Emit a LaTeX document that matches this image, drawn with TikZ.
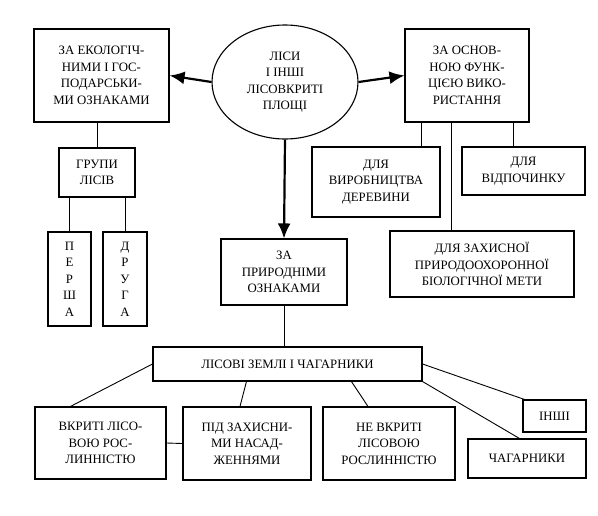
\documentclass[tikz,border=0pt]{standalone}
\usepackage{fontspec}
\setmainfont{Liberation Serif}
\usetikzlibrary{shapes,arrows.meta}

\begin{document}
\begin{tikzpicture}[x=1pt, y=-1pt,
  box/.style = {draw, line width=1.1pt, align=center, inner sep=0pt,
                font=\fontsize{12.8}{16.5}\selectfont},
  main/.style = {line width=2.2pt, -{Latex[length=15pt,width=13pt]}},
  link/.style = {line width=0.9pt}]
\useasboundingbox (0,0) rectangle (598,515);
% top level
\node[box, ellipse, minimum width=146pt, minimum height=114pt] (forest) at (285,82)
  {ЛІСИ\\І ІНШІ\\ЛІСОВКРИТІ\\ПЛОЩІ};
\node[box, minimum width=135pt, minimum height=93pt] (eco) at (101.5,75.5)
  {ЗА ЕКОЛОГІЧ-\\НИМИ І ГОС-\\ПОДАРСЬКИ-\\МИ ОЗНАКАМИ};
\node[box, minimum width=124pt, minimum height=93pt] (func) at (467,75.5)
  {ЗА ОСНОВ-\\НОЮ ФУНК-\\ЦІЄЮ ВИКО-\\РИСТАННЯ};
\node[box, minimum width=126pt, minimum height=66pt] (natural) at (284,272)
  {ЗА\\ПРИРОДНІМИ\\ОЗНАКАМИ};
\draw[main] (forest.west) -- (eco.east);
\draw[main] (forest.east) -- (func.west);
\draw[main] (forest.south) -- (natural.north);
% left branch
\node[box, minimum width=76pt, minimum height=49pt] (groups) at (97,172.5) {ГРУПИ\\ЛІСІВ};
\node[box, minimum width=43pt, minimum height=94pt] (first) at (69.5,279) {П\\Е\\Р\\Ш\\А};
\node[box, minimum width=44pt, minimum height=94pt] (second) at (125,279) {Д\\Р\\У\\Г\\А};
\draw[link] (groups.north) -- (groups.north |- eco.south);
\draw[link] (first.north) -- (first.north |- groups.south);
\draw[link] (second.north) -- (second.north |- groups.south);
% right branch
\node[box, minimum width=128pt, minimum height=70pt] (wood) at (376,182)
  {ДЛЯ\\ВИРОБНИЦТВА\\ДЕРЕВИНИ};
\node[box, minimum width=123pt, minimum height=48pt] (rest) at (523.5,171) {ДЛЯ\\ВІДПОЧИНКУ};
\node[box, minimum width=184pt, minimum height=66pt] (protect) at (482,264)
  {ДЛЯ ЗАХИСНОЇ\\ПРИРОДООХОРОННОЇ\\БІОЛОГІЧНОЇ МЕТИ};
\draw[link] ([xshift=-19pt]wood.north east) -- ([xshift=-19pt]wood.north east |- func.south);
\draw[link] ([xshift=-16pt]func.south) -- ([xshift=-16pt]func.south |- protect.north);
\draw[link] ([xshift=-10pt]rest.north) -- ([xshift=-10pt]rest.north |- func.south);
% bottom branch
\node[box, minimum width=269pt, minimum height=34pt] (lands) at (287.5,364)
  {ЛІСОВІ ЗЕМЛІ І ЧАГАРНИКИ};
\node[box, minimum width=131pt, minimum height=72pt] (covered) at (100.5,443)
  {ВКРИТІ ЛІСО-\\ВОЮ РОС-\\ЛИННІСТЮ};
\node[box, minimum width=128pt, minimum height=73pt] (shelter) at (247,443.5)
  {ПІД ЗАХИСНИ-\\МИ НАСАД-\\ЖЕННЯМИ};
\node[box, minimum width=132pt, minimum height=73pt] (uncovered) at (389,443.5)
  {НЕ ВКРИТІ\\ЛІСОВОЮ\\РОСЛИННІСТЮ};
\node[box, minimum width=118pt, minimum height=39pt] (shrubs) at (527,458.5) {ЧАГАРНИКИ};
\node[box, minimum width=63pt, minimum height=32pt] (other) at (554.5,416) {ІНШІ};
\draw[link] (natural.south) -- (natural.south |- lands.north);
\draw[link] (lands.west) -- ([xshift=36pt]covered.north west);
\draw[link] ([xshift=94pt]lands.south west) -- ([xshift=-7pt]shelter.north);
\draw[link] ([xshift=199pt]lands.south west) -- ([xshift=-21pt]uncovered.north);
\draw[link] (lands.east) -- ([xshift=2pt]other.north west);
\draw[link] (lands.south east) -- ([xshift=52pt]shrubs.north west);
\draw[link] (covered.east) -- (shelter.west);
\end{tikzpicture}
\end{document}
